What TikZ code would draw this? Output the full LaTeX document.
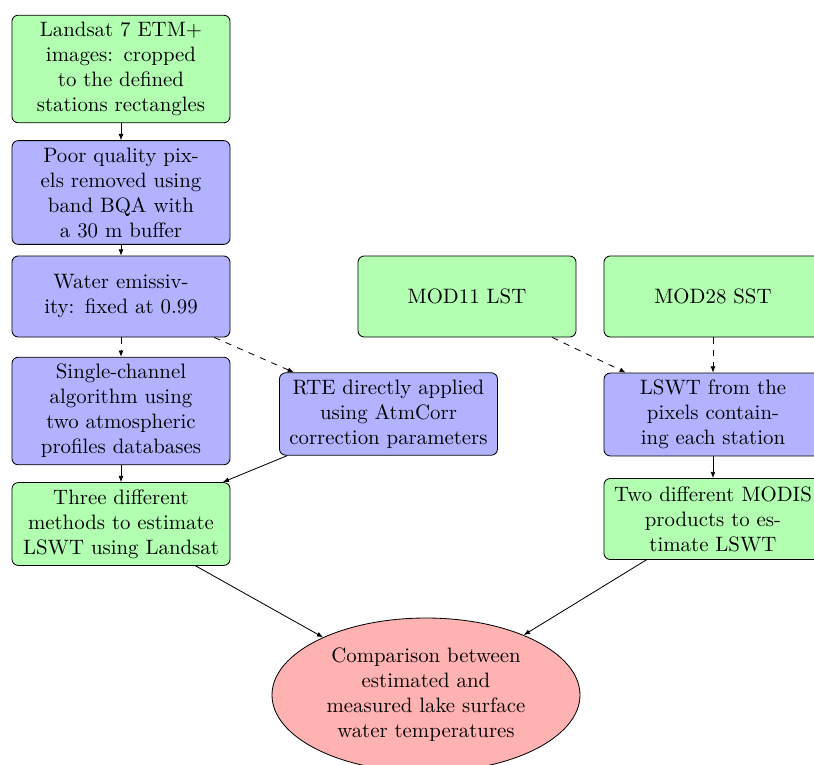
\documentclass[tikz,border=0pt]{standalone}
\usetikzlibrary{arrows.meta,shapes.geometric}
\begin{document}
\begin{tikzpicture}[x=0.48pt,y=-0.48pt,
  proc/.style={draw, rounded corners=3pt, align=center, text width=98pt,
    inner sep=3.33pt, minimum height=81*0.48pt},
  grn/.style={proc, fill=green!30},
  blu/.style={proc, fill=blue!30},
  goal/.style={draw, ellipse, fill=red!30, align=center,
    minimum width=308*0.48pt, minimum height=154*0.48pt, inner sep=0pt},
  arr/.style={-{Latex[length=3pt,width=2.4pt]}, thin},
  darr/.style={arr, dashed}]
\useasboundingbox (0,0) rectangle (814,764);
\node[grn] (a) at (121,69) {Landsat 7 ETM+\\images: cropped\\to the defined\\stations rectangles};
\node[blu] (b) at (121,192.5) {Poor quality pix-\\els removed using\\band BQA with\\a 30 m buffer};
\node[blu] (c) at (121,296.5) {Water emissiv-\\ity: fixed at 0.99};
\node[blu] (d) at (121,411) {Single-channel\\algorithm using\\two atmospheric\\profiles databases};
\node[grn] (e) at (121,524) {Three different\\methods to estimate\\LSWT using Landsat};
\node[blu] (f) at (388.5,414) {RTE directly applied\\using AtmCorr\\correction parameters};
\node[grn] (g) at (467,296.5) {MOD11 LST};
\node[grn] (h) at (713,296.5) {MOD28 SST};
\node[blu] (i) at (713,414.5) {LSWT from the\\pixels contain-\\ing each station};
\node[grn] (j) at (713,519) {Two different MODIS\\products to es-\\timate LSWT};
\node[goal] (k) at (426,695) {Comparison between\\estimated and\\measured lake surface\\water temperatures};
\draw[arr] (a) -- (b);
\draw[arr] (b) -- (c);
\draw[darr] (c) -- (d);
\draw[darr] (c) -- (f);
\draw[arr] (d) -- (e);
\draw[arr] (f) -- (e);
\draw[arr] (e) -- (k);
\draw[darr] (g) -- (i);
\draw[darr] (h) -- (i);
\draw[arr] (i) -- (j);
\draw[arr] (j) -- (k);
\end{tikzpicture}
\end{document}
